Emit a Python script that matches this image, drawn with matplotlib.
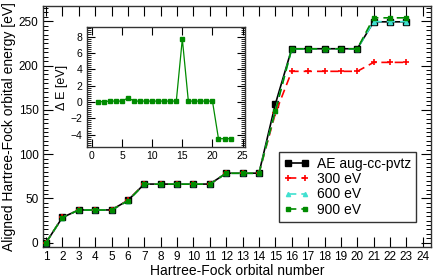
import matplotlib
matplotlib.use("Agg")
import matplotlib.pyplot as plt
from matplotlib.ticker import MultipleLocator

plt.rcParams['font.family'] = ['Liberation Sans', 'DejaVu Sans']

orbitals = list(range(1, 24))
ae = [0, 28.5, 37, 37, 37, 47.8, 66.2, 66.2, 66.2, 66.2, 66.2, 78.5, 78.5, 78.5,
      156.5, 219, 219, 219, 219, 219, 249.4, 249.4, 249.4]
e300 = [0, 28.5, 37, 37, 37, 47.8, 66.2, 66.2, 66.2, 66.2, 66.2, 78.5, 78.5, 78.5,
        146, 193.5, 193.5, 193.5, 193.5, 193.5, 203.6, 203.6, 203.6]
e600 = [0, 28.4, 36.9, 36.9, 36.9, 47.3, 66.1, 66.1, 66.1, 66.1, 66.1, 78.4, 78.4, 78.4,
        149, 218.9, 218.9, 218.9, 218.9, 218.9, 249.6, 249.6, 249.6]
e900 = [0, 28.45, 36.9, 36.9, 36.9, 47.3, 66.1, 66.1, 66.1, 66.1, 66.1, 78.4, 78.4, 78.4,
        148.8, 218.9, 218.9, 218.9, 218.9, 218.9, 253.9, 253.9, 253.9]
delta_e = [0.0, 0.05, 0.1, 0.1, 0.1, 0.5, 0.1, 0.1, 0.1, 0.1, 0.1, 0.1, 0.1, 0.1,
           7.7, 0.1, 0.1, 0.1, 0.1, 0.1, -4.5, -4.5, -4.5]
labels = ["AE aug-cc-pvtz", "300 eV", "600 eV", "900 eV"]

W, H = 436, 277
fig = plt.figure(figsize=(W / 100, H / 100), dpi=100)
ax = fig.add_axes([42.7 / W, 1 - 246.7 / H, (431 - 42.7) / W, (246.7 - 5.7) / H])

green = '#008b00'
red = '#ff0000'
cyan = '#40e0d0'

ax.plot(orbitals, ae, color='black', lw=1.2, marker='s', ms=4.5, label=labels[0], zorder=3)
ax.plot(orbitals, e300, color=red, lw=1.2, ls=(0, (5, 3)), marker='+', ms=4, mew=1.2, label=labels[1], zorder=4)
ax.plot(orbitals, e600, color=cyan, lw=1.2, ls=(0, (5, 3)), marker='^', ms=3, label=labels[2], zorder=5)
ax.plot(orbitals, e900, color=green, lw=1.2, ls=(0, (5, 3)), marker='s', ms=3, label=labels[3], zorder=6)

ax.set_xlim(0.8, 24.5)
ax.set_ylim(-4.5, 267.6)
ax.xaxis.set_major_locator(MultipleLocator(1))
ax.yaxis.set_major_locator(MultipleLocator(50))
ax.yaxis.set_minor_locator(MultipleLocator(5))
ax.tick_params(which='both', direction='in', top=True, right=True, labelsize=8.5, pad=3)
ax.tick_params(which='major', length=7, width=0.8)
ax.tick_params(which='minor', length=3.5, width=0.7)
ax.set_xlabel("Hartree-Fock orbital number", fontsize=10, labelpad=1)
ax.set_ylabel("Aligned Hartree-Fock orbital energy [eV]", fontsize=10, labelpad=2)
for s in ax.spines.values():
    s.set_linewidth(1.0)
    s.set_color('#333333')

leg = ax.legend(loc='lower right', bbox_to_anchor=(0.962, 0.104), numpoints=2,
                handlelength=1.8, fontsize=10, fancybox=False, framealpha=1,
                edgecolor='#333333', borderpad=0.35, labelspacing=0.1, handletextpad=0.6,
                borderaxespad=0)
leg.get_frame().set_linewidth(1.0)

ins = fig.add_axes([86.5 / W, 1 - 147.3 / H, (245 - 86.5) / W, (147.3 - 26.7) / H])
ins.plot(orbitals, delta_e, color=green, lw=0.9, marker='s', ms=2.2)
ins.set_xlim(-0.9, 25.4)
ins.set_ylim(-5.55, 9.2)
ins.xaxis.set_major_locator(MultipleLocator(5))
ins.yaxis.set_major_locator(MultipleLocator(2))
ins.yaxis.set_minor_locator(MultipleLocator(0.25))
ins.tick_params(which='both', direction='in', top=True, right=True, labelsize=7.5, pad=3)
ins.tick_params(which='major', length=5.5, width=0.8)
ins.tick_params(which='minor', length=3, width=0.6)
ins.set_ylabel("Δ E [eV]", fontsize=9, labelpad=2)
for s in ins.spines.values():
    s.set_linewidth(1.0)
    s.set_color('#333333')

fig.savefig("out.png", dpi=100)
